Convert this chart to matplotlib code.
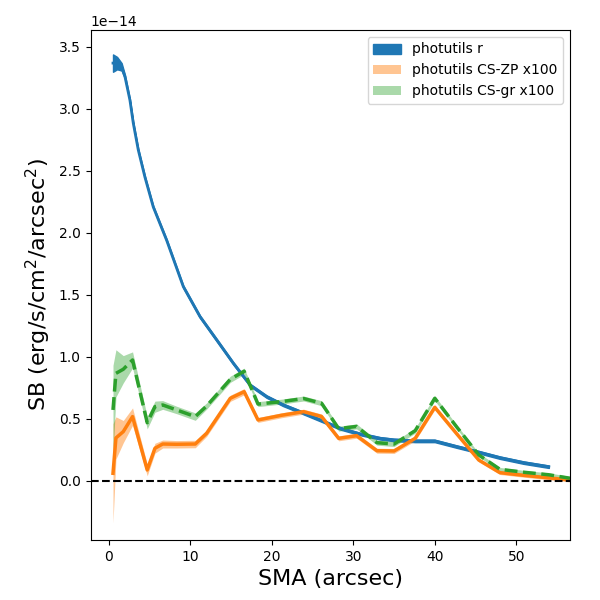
import numpy as np
import matplotlib
matplotlib.use("Agg")
import matplotlib.pyplot as plt

# photutils r profile (units of 1e-14)
sma_r = [0.5, 1.0, 1.56, 1.97, 2.58, 2.99, 3.6, 4.42, 5.44, 7.09, 9.13, 11.18, 13.23,
         15.27, 17.32, 19.37, 21.41, 23.46, 25.92, 28.38, 30.84, 33.29, 35.0, 37.6,
         40.0, 42.7, 45.2, 48.0, 50.9, 54.0]
sb_r = [3.37, 3.37, 3.34, 3.26, 3.07, 2.885, 2.67, 2.45, 2.21, 1.94, 1.567, 1.325, 1.137,
        0.949, 0.774, 0.68, 0.613, 0.559, 0.492, 0.425, 0.379, 0.344, 0.331, 0.323,
        0.323, 0.277, 0.236, 0.188, 0.148, 0.115]
err_r = [0.07, 0.05, 0.03, 0.015, 0.01, 0.01, 0.01, 0.01, 0.01, 0.01, 0.01, 0.01, 0.01,
         0.01, 0.01, 0.01, 0.01, 0.01, 0.01, 0.01, 0.01, 0.01, 0.01, 0.01,
         0.01, 0.01, 0.01, 0.01, 0.01, 0.01]

# colour-corrected profiles x100 (units of 1e-14)
sma_cs = [0.5, 0.86, 1.76, 2.9, 4.7, 5.65, 6.6, 8.3, 10.6, 12.0, 14.9, 16.6, 18.3, 21.2,
          23.9, 26.1, 28.2, 30.4, 32.9, 35.0, 37.6, 40.0, 42.7, 45.4, 48.0, 51.0, 54.0, 56.6]
sb_zp = [0.062, 0.347, 0.398, 0.519, 0.089, 0.264, 0.298, 0.296, 0.298, 0.385, 0.667, 0.72,
         0.492, 0.53, 0.559, 0.52, 0.344, 0.365, 0.244, 0.242, 0.344, 0.594, 0.38, 0.169,
         0.067, 0.045, 0.025, 0.008]
err_zp = [0.40, 0.17, 0.09, 0.07, 0.047, 0.04, 0.032, 0.03, 0.03, 0.025, 0.025, 0.025,
          0.02, 0.02, 0.02, 0.02, 0.02, 0.02, 0.02, 0.02, 0.02, 0.02, 0.015, 0.015,
          0.015, 0.015, 0.015, 0.015]
sb_gr = [0.573, 0.868, 0.901, 0.976, 0.470, 0.599, 0.613, 0.573, 0.519, 0.605, 0.820, 0.885,
         0.62, 0.64, 0.665, 0.627, 0.422, 0.44, 0.309, 0.298, 0.406, 0.667, 0.435, 0.210,
         0.094, 0.07, 0.05, 0.022]
err_gr = [0.36, 0.19, 0.11, 0.065, 0.05, 0.045, 0.035, 0.03, 0.03, 0.025, 0.025, 0.025,
          0.02, 0.02, 0.02, 0.02, 0.02, 0.02, 0.02, 0.02, 0.02, 0.02, 0.015, 0.015,
          0.015, 0.015, 0.015, 0.015]

scale = 1e-14
x_r = np.array(sma_r); y_r = np.array(sb_r) * scale; e_r = np.array(err_r) * scale
x_c = np.array(sma_cs)
y_zp = np.array(sb_zp) * scale; e_zp = np.array(err_zp) * scale
y_gr = np.array(sb_gr) * scale; e_gr = np.array(err_gr) * scale

fig = plt.figure(figsize=(6, 6), dpi=100)
ax = fig.add_axes([0.151, 0.1, 0.799, 0.85])

ax.fill_between(x_r, y_r - e_r, y_r + e_r, color='C0', alpha=1.0, label='photutils r')
ax.plot(x_r, y_r, color='C0', lw=2)

ax.fill_between(x_c, y_zp - e_zp, y_zp + e_zp, color='C1', alpha=0.45, lw=0,
                label='photutils CS-ZP x100')
ax.plot(x_c, y_zp, color='C1', lw=2.5)

ax.fill_between(x_c, y_gr - e_gr, y_gr + e_gr, color='C2', alpha=0.4, lw=0,
                label='photutils CS-gr x100')
ax.plot(x_c, y_gr, color='C2', lw=2.5, ls='--')

ax.axhline(0, color='k', ls='--', lw=1.5)

ax.set_xlim(-2.25, 56.6)
ax.set_ylim(-0.476e-14, 3.637e-14)
ax.set_xlabel('SMA (arcsec)', fontsize=16)
ax.set_ylabel(r'SB (erg/s/cm$^2$/arcsec$^2$)', fontsize=16)
ax.legend(loc='upper right')

fig.savefig('out.png', dpi=100)
